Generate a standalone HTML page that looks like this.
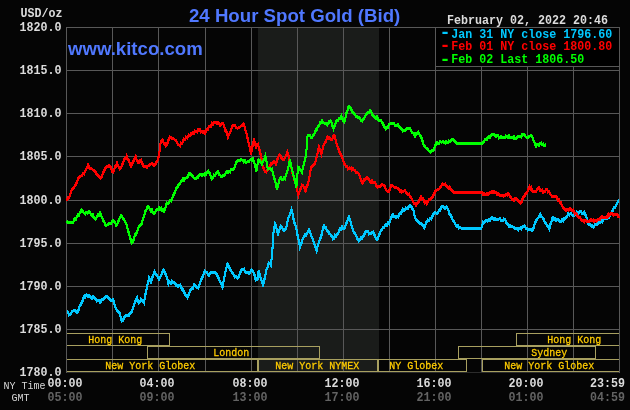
<!DOCTYPE html>
<html><head><meta charset="utf-8"><title>24 Hour Spot Gold (Bid)</title>
<style>
html,body{margin:0;padding:0;background:#050505;}
svg{display:block}
.m{font-family:"Liberation Mono",monospace;font-weight:bold;font-size:11.9px;fill:#dcdcdc}
.s{font-family:"Liberation Mono",monospace;font-size:11.5px;fill:#ffcc00;stroke:#ffcc00;stroke-width:0.3px}
.n{font-family:"Liberation Mono",monospace;font-size:11.5px;fill:#d8d8d8}
.t{font-family:"Liberation Sans",sans-serif;font-weight:bold;fill:#5078ff}
</style></head><body>
<svg width="630" height="410" viewBox="0 0 630 410">
<rect width="630" height="410" fill="#050505"/>
<rect x="258" y="27" width="121" height="345" fill="#1a1c1a"/>
<g fill="#585858" shape-rendering="crispEdges"><rect x="112" y="27" width="1" height="346"/><rect x="158" y="27" width="1" height="346"/><rect x="205" y="27" width="1" height="346"/><rect x="251" y="27" width="1" height="346"/><rect x="297" y="27" width="1" height="346"/><rect x="343" y="27" width="1" height="346"/><rect x="389" y="27" width="1" height="346"/><rect x="435" y="27" width="1" height="346"/><rect x="481" y="27" width="1" height="346"/><rect x="527" y="27" width="1" height="346"/><rect x="573" y="27" width="1" height="346"/><rect x="66" y="70" width="554" height="1"/><rect x="66" y="113" width="554" height="1"/><rect x="66" y="156" width="554" height="1"/><rect x="66" y="200" width="554" height="1"/><rect x="66" y="243" width="554" height="1"/><rect x="66" y="286" width="554" height="1"/><rect x="66" y="329" width="554" height="1"/><rect x="66" y="372" width="554" height="1" fill="#2c2c2c"/></g>
<g fill="none" stroke="#a8a060" stroke-width="1" shape-rendering="crispEdges"><path d="M66.5 333.5H169.5V345.5H66.5Z"/><path d="M516.5 333.5H619.5V345.5H516.5Z"/><path d="M147.5 346.5H319.5V358.5H147.5Z"/><path d="M458.5 346.5H595.5V358.5H458.5Z"/><path d="M66.5 359.5H257.5V371.5H66.5Z"/><path d="M258.5 359.5H377.5V371.5H258.5Z"/><path d="M378.5 359.5H466.5V371.5H378.5Z"/><path d="M482.5 359.5H619.5V371.5H482.5Z"/></g><g class="s"><text x="88.3" y="342.6" textLength="54" lengthAdjust="spacingAndGlyphs">Hong Kong</text><text x="547.3" y="342.6" textLength="54" lengthAdjust="spacingAndGlyphs">Hong Kong</text><text x="213.3" y="355.6" textLength="36" lengthAdjust="spacingAndGlyphs">London</text><text x="531.3" y="355.6" textLength="36" lengthAdjust="spacingAndGlyphs">Sydney</text><text x="105.3" y="368.6" textLength="90" lengthAdjust="spacingAndGlyphs">New York Globex</text><text x="275.3" y="368.6" textLength="84" lengthAdjust="spacingAndGlyphs">New York NYMEX</text><text x="389.3" y="368.6" textLength="54" lengthAdjust="spacingAndGlyphs">NY Globex</text><text x="504.3" y="368.6" textLength="90" lengthAdjust="spacingAndGlyphs">New York Globex</text></g>
<g fill="#585858" shape-rendering="crispEdges"><rect x="66" y="27" width="1" height="346"/><rect x="619" y="27" width="1" height="346"/><rect x="66" y="27" width="554" height="1"/></g>
<g class="m"><text x="19.5" y="31" textLength="42" lengthAdjust="spacingAndGlyphs">1820.0</text><text x="19.5" y="74" textLength="42" lengthAdjust="spacingAndGlyphs">1815.0</text><text x="19.5" y="117" textLength="42" lengthAdjust="spacingAndGlyphs">1810.0</text><text x="19.5" y="160" textLength="42" lengthAdjust="spacingAndGlyphs">1805.0</text><text x="19.5" y="204" textLength="42" lengthAdjust="spacingAndGlyphs">1800.0</text><text x="19.5" y="247" textLength="42" lengthAdjust="spacingAndGlyphs">1795.0</text><text x="19.5" y="290" textLength="42" lengthAdjust="spacingAndGlyphs">1790.0</text><text x="19.5" y="333" textLength="42" lengthAdjust="spacingAndGlyphs">1785.0</text><text x="19.5" y="376" textLength="42" lengthAdjust="spacingAndGlyphs">1780.0</text><text x="20.5" y="17" textLength="42" lengthAdjust="spacingAndGlyphs">USD/oz</text><text x="47.5" y="386.6" textLength="35" lengthAdjust="spacingAndGlyphs">00:00</text><text x="47.5" y="400.6" textLength="35" lengthAdjust="spacingAndGlyphs" fill="#636363">05:00</text><text x="139.5" y="386.6" textLength="35" lengthAdjust="spacingAndGlyphs">04:00</text><text x="139.5" y="400.6" textLength="35" lengthAdjust="spacingAndGlyphs" fill="#636363">09:00</text><text x="232.5" y="386.6" textLength="35" lengthAdjust="spacingAndGlyphs">08:00</text><text x="232.5" y="400.6" textLength="35" lengthAdjust="spacingAndGlyphs" fill="#636363">13:00</text><text x="324.5" y="386.6" textLength="35" lengthAdjust="spacingAndGlyphs">12:00</text><text x="324.5" y="400.6" textLength="35" lengthAdjust="spacingAndGlyphs" fill="#636363">17:00</text><text x="416.5" y="386.6" textLength="35" lengthAdjust="spacingAndGlyphs">16:00</text><text x="416.5" y="400.6" textLength="35" lengthAdjust="spacingAndGlyphs" fill="#636363">21:00</text><text x="508.5" y="386.6" textLength="35" lengthAdjust="spacingAndGlyphs">20:00</text><text x="508.5" y="400.6" textLength="35" lengthAdjust="spacingAndGlyphs" fill="#636363">01:00</text><text x="590" y="386.6" textLength="35" lengthAdjust="spacingAndGlyphs">23:59</text><text x="590" y="400.6" textLength="35" lengthAdjust="spacingAndGlyphs" fill="#636363">04:59</text></g>
<g class="n"><text x="3.5" y="388.6" textLength="42" lengthAdjust="spacingAndGlyphs">NY Time</text><text x="11.5" y="400.6" textLength="18" lengthAdjust="spacingAndGlyphs">GMT</text></g>
<text class="t" x="189" y="21.8" font-size="18.65px">24 Hour Spot Gold (Bid)</text>
<text class="t" x="68" y="55" font-size="18.6px">www.kitco.com</text>
<g fill="none" stroke-width="2" stroke-linejoin="miter" stroke-linecap="butt" shape-rendering="crispEdges">
<polyline stroke="#00c8ff" points="67.0,311.0 68.0,312.0 69.0,315.0 70.0,314.9 71.0,313.7 72.0,311.4 73.0,311.0 74.0,310.0 75.0,310.4 76.0,311.4 77.0,312.3 78.0,312.0 79.0,308.3 80.0,305.4 81.0,304.0 82.1,302.2 83.3,298.5 84.4,296.0 85.3,296.7 86.3,294.8 87.2,296.1 88.1,296.8 89.1,295.6 90.0,296.4 91.0,298.0 92.0,298.3 93.0,296.5 94.0,296.9 95.0,298.7 96.0,299.0 97.0,301.0 98.0,300.4 99.0,300.8 100.0,302.4 100.9,301.3 101.8,299.5 102.7,299.1 103.6,299.0 104.5,298.0 105.5,297.3 106.4,296.4 107.3,296.6 108.2,297.5 109.1,298.4 110.0,300.0 110.9,300.1 111.8,300.0 112.7,299.5 113.6,301.0 114.8,305.9 116.0,309.0 117.0,310.1 118.0,311.4 119.0,312.0 120.0,314.2 121.0,319.3 122.0,321.0 123.0,320.6 124.0,317.3 125.0,316.5 126.0,315.6 127.0,315.7 128.0,315.1 129.0,315.2 130.0,313.3 131.0,313.0 132.1,310.9 133.3,307.4 134.4,304.0 135.3,301.4 136.1,300.0 137.0,297.6 138.0,301.3 139.0,303.0 140.0,301.9 141.0,299.0 142.0,300.3 143.0,301.9 144.0,303.0 145.2,295.3 146.4,290.0 147.3,285.3 148.1,282.8 149.0,278.0 150.0,279.8 151.0,282.0 152.1,277.7 153.3,275.2 154.4,271.6 155.3,273.6 156.2,275.0 157.2,275.7 158.1,277.4 159.0,279.0 159.9,277.2 160.8,276.1 161.8,273.7 162.7,271.5 163.6,270.0 164.8,272.5 166.0,275.0 167.2,278.3 168.4,284.0 169.3,282.1 170.2,283.0 171.1,283.0 172.0,281.0 173.0,282.2 174.0,282.7 175.0,283.1 176.0,285.0 177.0,285.0 178.0,286.3 179.0,285.7 180.0,285.0 181.0,286.9 182.0,289.4 183.0,289.6 184.0,292.0 184.9,293.4 185.8,296.0 186.7,296.4 187.6,297.6 188.7,294.6 189.9,291.3 191.0,289.0 192.0,288.1 193.0,288.2 194.0,284.7 195.0,285.0 196.0,286.7 197.0,287.8 198.0,288.0 199.0,286.3 200.0,283.3 201.0,280.0 202.0,278.6 203.0,275.5 204.0,273.4 205.0,271.0 206.0,272.1 207.0,272.5 208.0,275.0 209.0,275.3 210.0,273.9 211.0,272.3 212.0,272.4 213.0,272.6 214.0,272.7 215.0,272.5 216.0,273.0 217.0,274.6 218.0,277.1 219.0,279.0 219.9,281.3 220.8,283.3 221.7,284.9 222.6,287.0 223.8,279.3 225.0,274.0 226.2,268.3 227.4,264.0 228.3,264.7 229.2,267.2 230.1,269.4 231.0,270.0 232.0,272.4 233.0,274.1 234.0,275.0 235.1,277.0 236.3,276.6 237.4,278.4 238.3,277.5 239.1,275.3 240.0,273.0 241.0,270.7 242.0,269.3 243.0,269.4 244.0,269.1 245.0,272.1 246.0,272.4 247.0,272.1 248.0,272.1 249.0,273.4 250.2,272.0 251.4,270.0 252.4,270.6 253.4,272.0 254.5,274.9 255.6,280.0 256.6,278.6 257.6,279.0 258.6,271.0 259.8,275.1 261.0,279.0 262.0,281.6 263.0,286.0 264.0,280.9 265.0,277.0 266.4,270.0 267.3,268.2 268.1,265.2 269.0,263.0 270.0,263.5 271.0,265.0 272.4,250.0 273.4,233.0 274.2,228.4 275.0,224.0 276.0,226.1 277.0,230.4 278.0,234.0 279.0,231.1 280.0,227.9 281.0,226.0 282.0,227.0 283.0,230.0 284.0,230.7 285.0,229.4 286.0,229.0 287.2,222.7 288.4,218.0 289.4,215.5 290.4,213.2 291.4,209.6 292.3,212.5 293.1,216.6 294.0,222.0 295.2,224.6 296.4,229.0 297.4,234.6 298.4,239.0 299.2,242.1 300.0,247.0 301.0,244.5 302.0,241.5 303.0,238.0 304.0,236.8 305.0,234.6 306.0,235.2 307.0,233.4 308.0,231.4 309.0,230.0 310.0,231.8 311.0,235.4 312.0,237.2 313.0,240.0 313.9,242.9 314.8,245.0 315.7,248.6 316.6,251.0 317.7,245.9 318.9,242.5 320.0,239.0 321.0,236.9 322.0,233.3 323.0,228.4 324.0,225.6 325.0,227.9 326.0,227.8 327.0,230.8 328.0,231.0 329.0,233.2 330.0,234.0 331.0,235.2 332.0,236.1 333.0,239.0 334.0,238.7 335.0,235.3 336.0,236.1 337.0,234.0 338.0,233.8 339.0,231.4 340.0,228.9 341.0,229.4 342.0,227.0 343.2,228.7 344.4,228.0 345.3,226.3 346.2,223.6 347.2,221.1 348.1,218.8 349.0,217.0 350.0,219.7 351.0,224.0 352.0,227.5 353.0,229.8 354.0,233.0 355.0,233.8 356.0,235.2 357.0,238.2 358.0,238.9 359.0,241.0 360.0,239.7 361.0,238.0 362.0,238.2 363.0,236.0 364.0,235.8 365.0,232.2 366.0,231.5 367.0,231.0 368.0,231.4 369.0,234.0 370.0,233.6 371.0,233.8 372.0,232.1 373.0,232.0 374.0,233.3 375.0,236.5 376.0,238.9 377.0,240.0 378.0,238.6 379.0,234.6 380.0,233.5 381.0,230.0 382.0,229.2 383.0,227.5 384.0,227.5 385.0,225.0 386.0,224.1 387.0,225.1 388.0,223.2 389.0,224.0 390.0,220.1 391.0,219.1 392.0,215.0 393.0,214.6 394.0,216.3 395.0,216.3 396.0,217.2 397.0,216.3 398.0,217.0 399.0,215.0 400.0,213.3 401.0,213.2 402.0,210.9 403.0,209.0 404.0,210.2 405.0,210.0 406.0,208.1 407.0,209.0 407.9,208.4 408.8,206.5 409.7,205.6 410.6,206.0 411.5,206.2 412.5,209.6 413.4,210.0 414.2,214.2 415.0,217.0 416.0,219.5 417.0,219.9 418.0,222.0 419.0,222.8 420.0,223.7 421.0,223.2 422.0,224.0 423.2,226.0 424.4,227.6 425.3,225.0 426.2,222.7 427.1,221.3 428.0,220.0 429.0,220.3 430.0,218.7 431.0,218.9 432.0,217.0 433.0,215.2 434.0,213.1 435.0,212.0 436.0,213.1 437.0,213.5 438.0,213.0 439.0,210.1 440.0,210.1 441.0,208.0 442.0,206.6 443.0,206.3 444.0,207.0 445.1,208.5 446.3,206.7 447.4,208.4 448.3,209.6 449.1,213.4 450.0,214.0 451.0,216.1 452.0,217.7 453.0,221.0 454.0,221.7 455.0,223.4 456.0,225.6 457.0,226.7 458.0,225.5 459.0,228.1 460.0,227.2 461.0,228.0 462.0,228.0 463.0,228.0 464.0,228.1 465.0,228.1 466.0,228.1 467.0,228.1 468.0,228.1 469.0,228.2 470.0,228.2 471.0,228.2 472.0,228.2 473.0,228.2 474.0,228.3 475.0,228.3 476.0,228.3 477.0,228.3 478.0,228.3 479.0,228.4 480.0,228.4 481.0,228.4 482.0,226.4 483.0,222.0 484.0,222.9 485.0,221.1 486.0,220.8 487.0,221.1 488.0,221.0 489.0,219.4 490.0,220.4 491.0,218.2 492.0,217.6 493.0,218.4 494.0,219.9 495.0,218.3 496.0,219.4 497.0,219.2 498.0,219.6 499.0,219.0 500.0,218.3 501.0,220.4 502.0,220.4 503.0,220.3 504.0,219.0 505.0,219.7 506.0,221.6 507.0,224.0 508.0,224.8 509.0,226.2 510.0,225.6 511.0,226.5 512.0,226.9 513.0,227.0 514.0,227.0 515.0,228.3 516.0,228.3 517.0,228.7 518.0,230.0 519.1,228.2 520.1,228.0 521.2,229.1 522.3,226.9 523.3,226.7 524.4,225.6 525.3,227.1 526.2,228.9 527.1,228.6 528.0,230.0 529.0,229.6 530.0,229.8 531.0,229.8 532.0,230.4 533.0,229.0 534.0,226.7 535.0,222.8 536.0,221.0 537.1,218.9 538.2,217.8 539.3,216.3 540.4,214.4 541.3,216.4 542.2,217.2 543.2,218.3 544.1,220.6 545.0,223.0 546.1,223.4 547.2,226.1 548.3,226.4 549.4,229.0 550.4,224.2 551.4,222.0 552.4,218.0 553.3,217.8 554.2,219.4 555.2,218.9 556.1,220.2 557.0,219.6 558.0,219.1 559.0,220.4 560.0,221.6 561.0,221.2 562.0,219.4 563.1,220.9 564.2,218.1 565.2,218.2 566.2,217.5 567.1,216.7 568.1,214.0 569.1,215.1 570.0,214.0 571.0,213.7 571.9,215.0 572.9,215.2 573.9,215.8 574.9,213.7 575.9,214.8 576.9,212.3 577.9,213.9 578.9,212.3 580.0,211.1 581.1,211.8 582.1,213.3 583.2,213.1 584.3,212.3 585.3,215.1 586.3,215.8 587.3,221.8 588.3,223.7 589.2,224.4 590.2,224.8 591.2,226.1 592.2,225.6 593.2,227.2 594.2,226.0 595.2,224.3 596.2,224.2 597.2,224.3 598.3,223.7 599.4,222.2 600.4,222.4 601.3,220.4 602.2,221.8 603.1,220.5 604.0,218.8 605.0,218.7 605.9,218.4 606.9,219.0 607.8,217.7 608.8,217.6 610.0,215.3 611.2,213.5 612.1,211.6 613.0,209.9 613.8,207.8 614.7,207.5 615.9,205.8 617.1,203.3 618.0,201.3 618.9,199.7" transform="translate(0,-0.5)"/><polyline stroke="#00c8ff" points="67.0,311.0 68.0,312.0 69.0,315.0 70.0,314.9 71.0,313.7 72.0,311.4 73.0,311.0 74.0,310.0 75.0,310.4 76.0,311.4 77.0,312.3 78.0,312.0 79.0,308.3 80.0,305.4 81.0,304.0 82.1,302.2 83.3,298.5 84.4,296.0 85.3,296.7 86.3,294.8 87.2,296.1 88.1,296.8 89.1,295.6 90.0,296.4 91.0,298.0 92.0,298.3 93.0,296.5 94.0,296.9 95.0,298.7 96.0,299.0 97.0,301.0 98.0,300.4 99.0,300.8 100.0,302.4 100.9,301.3 101.8,299.5 102.7,299.1 103.6,299.0 104.5,298.0 105.5,297.3 106.4,296.4 107.3,296.6 108.2,297.5 109.1,298.4 110.0,300.0 110.9,300.1 111.8,300.0 112.7,299.5 113.6,301.0 114.8,305.9 116.0,309.0 117.0,310.1 118.0,311.4 119.0,312.0 120.0,314.2 121.0,319.3 122.0,321.0 123.0,320.6 124.0,317.3 125.0,316.5 126.0,315.6 127.0,315.7 128.0,315.1 129.0,315.2 130.0,313.3 131.0,313.0 132.1,310.9 133.3,307.4 134.4,304.0 135.3,301.4 136.1,300.0 137.0,297.6 138.0,301.3 139.0,303.0 140.0,301.9 141.0,299.0 142.0,300.3 143.0,301.9 144.0,303.0 145.2,295.3 146.4,290.0 147.3,285.3 148.1,282.8 149.0,278.0 150.0,279.8 151.0,282.0 152.1,277.7 153.3,275.2 154.4,271.6 155.3,273.6 156.2,275.0 157.2,275.7 158.1,277.4 159.0,279.0 159.9,277.2 160.8,276.1 161.8,273.7 162.7,271.5 163.6,270.0 164.8,272.5 166.0,275.0 167.2,278.3 168.4,284.0 169.3,282.1 170.2,283.0 171.1,283.0 172.0,281.0 173.0,282.2 174.0,282.7 175.0,283.1 176.0,285.0 177.0,285.0 178.0,286.3 179.0,285.7 180.0,285.0 181.0,286.9 182.0,289.4 183.0,289.6 184.0,292.0 184.9,293.4 185.8,296.0 186.7,296.4 187.6,297.6 188.7,294.6 189.9,291.3 191.0,289.0 192.0,288.1 193.0,288.2 194.0,284.7 195.0,285.0 196.0,286.7 197.0,287.8 198.0,288.0 199.0,286.3 200.0,283.3 201.0,280.0 202.0,278.6 203.0,275.5 204.0,273.4 205.0,271.0 206.0,272.1 207.0,272.5 208.0,275.0 209.0,275.3 210.0,273.9 211.0,272.3 212.0,272.4 213.0,272.6 214.0,272.7 215.0,272.5 216.0,273.0 217.0,274.6 218.0,277.1 219.0,279.0 219.9,281.3 220.8,283.3 221.7,284.9 222.6,287.0 223.8,279.3 225.0,274.0 226.2,268.3 227.4,264.0 228.3,264.7 229.2,267.2 230.1,269.4 231.0,270.0 232.0,272.4 233.0,274.1 234.0,275.0 235.1,277.0 236.3,276.6 237.4,278.4 238.3,277.5 239.1,275.3 240.0,273.0 241.0,270.7 242.0,269.3 243.0,269.4 244.0,269.1 245.0,272.1 246.0,272.4 247.0,272.1 248.0,272.1 249.0,273.4 250.2,272.0 251.4,270.0 252.4,270.6 253.4,272.0 254.5,274.9 255.6,280.0 256.6,278.6 257.6,279.0 258.6,271.0 259.8,275.1 261.0,279.0 262.0,281.6 263.0,286.0 264.0,280.9 265.0,277.0 266.4,270.0 267.3,268.2 268.1,265.2 269.0,263.0 270.0,263.5 271.0,265.0 272.4,250.0 273.4,233.0 274.2,228.4 275.0,224.0 276.0,226.1 277.0,230.4 278.0,234.0 279.0,231.1 280.0,227.9 281.0,226.0 282.0,227.0 283.0,230.0 284.0,230.7 285.0,229.4 286.0,229.0 287.2,222.7 288.4,218.0 289.4,215.5 290.4,213.2 291.4,209.6 292.3,212.5 293.1,216.6 294.0,222.0 295.2,224.6 296.4,229.0 297.4,234.6 298.4,239.0 299.2,242.1 300.0,247.0 301.0,244.5 302.0,241.5 303.0,238.0 304.0,236.8 305.0,234.6 306.0,235.2 307.0,233.4 308.0,231.4 309.0,230.0 310.0,231.8 311.0,235.4 312.0,237.2 313.0,240.0 313.9,242.9 314.8,245.0 315.7,248.6 316.6,251.0 317.7,245.9 318.9,242.5 320.0,239.0 321.0,236.9 322.0,233.3 323.0,228.4 324.0,225.6 325.0,227.9 326.0,227.8 327.0,230.8 328.0,231.0 329.0,233.2 330.0,234.0 331.0,235.2 332.0,236.1 333.0,239.0 334.0,238.7 335.0,235.3 336.0,236.1 337.0,234.0 338.0,233.8 339.0,231.4 340.0,228.9 341.0,229.4 342.0,227.0 343.2,228.7 344.4,228.0 345.3,226.3 346.2,223.6 347.2,221.1 348.1,218.8 349.0,217.0 350.0,219.7 351.0,224.0 352.0,227.5 353.0,229.8 354.0,233.0 355.0,233.8 356.0,235.2 357.0,238.2 358.0,238.9 359.0,241.0 360.0,239.7 361.0,238.0 362.0,238.2 363.0,236.0 364.0,235.8 365.0,232.2 366.0,231.5 367.0,231.0 368.0,231.4 369.0,234.0 370.0,233.6 371.0,233.8 372.0,232.1 373.0,232.0 374.0,233.3 375.0,236.5 376.0,238.9 377.0,240.0 378.0,238.6 379.0,234.6 380.0,233.5 381.0,230.0 382.0,229.2 383.0,227.5 384.0,227.5 385.0,225.0 386.0,224.1 387.0,225.1 388.0,223.2 389.0,224.0 390.0,220.1 391.0,219.1 392.0,215.0 393.0,214.6 394.0,216.3 395.0,216.3 396.0,217.2 397.0,216.3 398.0,217.0 399.0,215.0 400.0,213.3 401.0,213.2 402.0,210.9 403.0,209.0 404.0,210.2 405.0,210.0 406.0,208.1 407.0,209.0 407.9,208.4 408.8,206.5 409.7,205.6 410.6,206.0 411.5,206.2 412.5,209.6 413.4,210.0 414.2,214.2 415.0,217.0 416.0,219.5 417.0,219.9 418.0,222.0 419.0,222.8 420.0,223.7 421.0,223.2 422.0,224.0 423.2,226.0 424.4,227.6 425.3,225.0 426.2,222.7 427.1,221.3 428.0,220.0 429.0,220.3 430.0,218.7 431.0,218.9 432.0,217.0 433.0,215.2 434.0,213.1 435.0,212.0 436.0,213.1 437.0,213.5 438.0,213.0 439.0,210.1 440.0,210.1 441.0,208.0 442.0,206.6 443.0,206.3 444.0,207.0 445.1,208.5 446.3,206.7 447.4,208.4 448.3,209.6 449.1,213.4 450.0,214.0 451.0,216.1 452.0,217.7 453.0,221.0 454.0,221.7 455.0,223.4 456.0,225.6 457.0,226.7 458.0,225.5 459.0,228.1 460.0,227.2 461.0,228.0 462.0,228.0 463.0,228.0 464.0,228.1 465.0,228.1 466.0,228.1 467.0,228.1 468.0,228.1 469.0,228.2 470.0,228.2 471.0,228.2 472.0,228.2 473.0,228.2 474.0,228.3 475.0,228.3 476.0,228.3 477.0,228.3 478.0,228.3 479.0,228.4 480.0,228.4 481.0,228.4 482.0,226.4 483.0,222.0 484.0,222.9 485.0,221.1 486.0,220.8 487.0,221.1 488.0,221.0 489.0,219.4 490.0,220.4 491.0,218.2 492.0,217.6 493.0,218.4 494.0,219.9 495.0,218.3 496.0,219.4 497.0,219.2 498.0,219.6 499.0,219.0 500.0,218.3 501.0,220.4 502.0,220.4 503.0,220.3 504.0,219.0 505.0,219.7 506.0,221.6 507.0,224.0 508.0,224.8 509.0,226.2 510.0,225.6 511.0,226.5 512.0,226.9 513.0,227.0 514.0,227.0 515.0,228.3 516.0,228.3 517.0,228.7 518.0,230.0 519.1,228.2 520.1,228.0 521.2,229.1 522.3,226.9 523.3,226.7 524.4,225.6 525.3,227.1 526.2,228.9 527.1,228.6 528.0,230.0 529.0,229.6 530.0,229.8 531.0,229.8 532.0,230.4 533.0,229.0 534.0,226.7 535.0,222.8 536.0,221.0 537.1,218.9 538.2,217.8 539.3,216.3 540.4,214.4 541.3,216.4 542.2,217.2 543.2,218.3 544.1,220.6 545.0,223.0 546.1,223.4 547.2,226.1 548.3,226.4 549.4,229.0 550.4,224.2 551.4,222.0 552.4,218.0 553.3,217.8 554.2,219.4 555.2,218.9 556.1,220.2 557.0,219.6 558.0,219.1 559.0,220.4 560.0,221.6 561.0,221.2 562.0,219.4 563.1,220.9 564.2,218.1 565.2,218.2 566.2,217.5 567.1,216.7 568.1,214.0 569.1,215.1 570.0,214.0 571.0,213.7 571.9,215.0 572.9,215.2 573.9,215.8 574.9,213.7 575.9,214.8 576.9,212.3 577.9,213.9 578.9,212.3 580.0,211.1 581.1,211.8 582.1,213.3 583.2,213.1 584.3,212.3 585.3,215.1 586.3,215.8 587.3,221.8 588.3,223.7 589.2,224.4 590.2,224.8 591.2,226.1 592.2,225.6 593.2,227.2 594.2,226.0 595.2,224.3 596.2,224.2 597.2,224.3 598.3,223.7 599.4,222.2 600.4,222.4 601.3,220.4 602.2,221.8 603.1,220.5 604.0,218.8 605.0,218.7 605.9,218.4 606.9,219.0 607.8,217.7 608.8,217.6 610.0,215.3 611.2,213.5 612.1,211.6 613.0,209.9 613.8,207.8 614.7,207.5 615.9,205.8 617.1,203.3 618.0,201.3 618.9,199.7" transform="translate(0,0.5)"/>
<polyline stroke="#ff0000" points="66.5,199.5 67.2,199.7 68.0,197.6 69.0,197.8 70.0,195.6 71.0,191.9 72.0,189.5 73.0,188.0 74.0,187.5 75.0,185.9 76.0,184.0 77.0,182.1 78.0,178.8 79.0,177.0 80.0,176.7 81.0,176.1 82.0,175.4 83.0,173.7 84.0,174.0 85.0,171.6 86.0,169.2 87.0,167.8 88.0,165.0 89.0,167.3 90.0,168.2 91.0,168.1 92.0,169.0 93.0,170.1 94.0,170.8 95.0,171.4 96.0,172.6 97.0,175.0 97.9,175.7 98.8,176.0 99.7,176.9 100.6,178.0 101.7,176.8 102.8,173.6 103.9,171.4 105.0,169.0 106.0,167.7 107.0,166.6 108.0,166.7 109.0,165.7 110.0,166.0 111.0,168.0 112.0,171.3 113.0,172.0 114.0,170.2 115.0,166.7 116.0,166.3 117.0,163.0 118.0,165.8 119.0,167.6 120.0,169.0 120.9,168.1 121.8,165.7 122.7,163.8 123.6,161.0 124.6,159.0 125.6,158.9 126.6,156.0 127.7,159.7 128.8,160.1 129.9,164.2 131.0,166.0 131.9,164.6 132.8,162.1 133.8,160.3 134.7,158.3 135.6,156.4 136.5,159.7 137.5,160.8 138.4,163.0 139.3,162.9 140.1,160.6 141.0,160.0 142.0,163.1 143.0,165.3 144.0,166.4 145.0,166.2 146.0,166.4 147.0,167.2 148.0,166.0 149.0,165.9 150.0,164.6 151.0,164.0 152.0,163.9 153.0,164.9 154.0,166.0 155.1,164.9 156.3,161.8 157.4,161.0 158.4,157.6 159.4,152.0 160.6,143.0 161.6,140.9 162.6,140.0 163.7,143.1 164.9,143.5 166.0,146.0 166.9,144.9 167.8,142.0 168.7,139.3 169.6,137.0 170.7,137.6 171.8,138.6 172.8,139.0 173.9,138.9 175.0,140.0 176.0,140.4 177.0,142.4 178.0,144.7 179.0,145.1 180.0,146.0 181.0,143.1 182.0,143.3 183.0,141.3 184.0,139.0 185.0,139.6 186.0,137.2 187.0,138.1 188.0,137.0 189.0,135.0 190.0,135.7 191.0,133.9 192.0,133.6 193.0,132.4 194.0,133.5 195.0,131.0 196.0,131.6 197.0,131.9 198.0,129.9 199.0,130.0 200.0,129.7 201.0,132.0 202.0,131.3 203.0,132.6 204.0,131.3 205.0,133.0 206.0,131.2 207.0,129.3 208.0,129.2 209.0,126.3 210.0,126.0 211.0,126.5 212.0,123.4 213.0,124.6 214.0,122.1 215.0,122.0 216.0,122.0 217.0,123.6 218.0,122.6 219.0,123.4 220.0,125.0 221.0,125.0 222.0,123.8 223.0,123.6 224.0,125.1 225.0,130.2 226.0,130.7 227.0,133.1 228.0,137.0 229.0,134.3 230.0,132.7 231.0,130.8 232.0,126.9 233.0,125.6 234.0,125.8 235.0,125.6 236.0,127.3 237.0,128.0 237.9,128.1 238.9,127.4 239.8,127.2 240.8,126.2 241.7,125.8 242.7,124.8 243.6,123.6 244.8,127.7 246.0,132.0 247.0,135.3 248.0,140.4 249.0,144.0 250.0,148.5 251.0,154.0 252.0,148.0 253.0,143.9 254.0,139.0 255.0,144.0 256.0,147.0 257.0,144.5 258.0,144.0 259.0,148.2 260.0,151.7 261.0,156.0 262.0,162.0 263.0,168.0 264.0,168.4 265.0,171.9 266.0,172.0 267.0,170.0 268.0,169.6 269.0,168.0 270.0,166.3 271.0,163.7 272.0,163.7 273.0,162.0 274.0,161.7 275.0,162.2 276.0,164.0 277.1,159.8 278.3,157.1 279.4,155.0 280.3,155.2 281.2,157.9 282.1,158.8 283.0,160.0 284.1,159.3 285.2,157.1 286.3,155.3 287.4,152.0 288.3,154.6 289.1,158.5 290.0,162.0 291.2,166.9 292.4,173.0 293.3,176.0 294.2,178.8 295.1,182.0 296.0,184.0 297.2,190.0 298.4,195.0 299.3,191.9 300.2,189.8 301.1,187.6 302.0,185.0 302.9,185.2 303.8,186.8 304.7,189.3 305.6,191.0 306.7,186.3 307.9,184.2 309.0,180.0 310.0,173.3 311.0,168.0 312.0,166.0 313.0,165.2 314.0,164.3 315.0,164.0 316.0,159.0 317.0,155.6 318.0,151.2 319.0,147.0 320.2,150.0 321.4,154.0 322.3,151.0 323.1,146.6 324.0,144.0 325.1,142.7 326.3,140.5 327.4,137.0 328.3,138.1 329.2,137.9 330.2,138.6 331.1,139.3 332.0,139.6 333.2,136.4 334.4,135.6 335.3,138.7 336.2,142.4 337.1,144.8 338.0,149.0 339.0,149.9 340.0,153.8 341.0,154.7 342.0,157.0 343.0,159.7 344.0,163.4 345.0,165.0 346.0,166.1 347.0,166.1 348.0,168.7 349.0,167.9 350.0,169.0 351.0,168.0 352.0,170.0 353.0,168.7 354.0,170.0 355.0,170.2 356.0,172.4 357.0,172.7 358.0,173.0 359.1,174.2 360.2,177.9 361.3,180.3 362.4,183.0 363.3,181.7 364.2,179.7 365.1,179.5 366.0,178.0 367.0,177.6 368.0,178.9 369.0,179.9 370.0,181.0 371.0,182.4 372.0,180.4 373.0,182.4 374.0,182.0 375.1,182.9 376.3,185.5 377.4,187.0 378.3,186.4 379.3,186.2 380.2,186.7 381.1,185.4 382.1,184.3 383.0,185.0 384.0,185.4 385.0,186.7 386.0,190.1 387.0,191.0 388.0,192.0 389.0,191.4 390.0,189.0 391.0,185.5 392.0,185.0 393.0,186.0 394.0,186.9 395.0,187.4 396.0,187.4 397.0,188.0 398.0,188.4 399.0,189.5 400.0,191.2 401.0,190.6 402.0,192.0 403.0,191.6 404.0,191.0 405.0,190.6 406.0,192.6 407.0,193.1 408.0,194.3 409.0,194.0 410.0,196.9 411.0,197.5 412.0,199.3 413.0,202.0 414.0,203.2 415.0,203.8 416.0,205.6 417.0,203.7 418.0,202.6 419.0,201.5 420.0,198.9 421.0,197.0 421.9,198.9 422.9,198.1 423.8,199.9 424.7,202.7 425.7,201.6 426.6,203.6 427.6,202.2 428.6,200.2 429.6,199.1 430.6,199.0 431.7,198.3 432.8,196.8 433.9,194.1 435.0,192.0 436.0,190.3 437.0,190.0 438.0,189.1 439.0,189.0 440.1,187.8 441.3,186.1 442.4,184.0 443.3,184.2 444.2,184.9 445.2,184.2 446.1,185.7 447.0,186.0 447.9,187.9 448.8,188.2 449.7,187.2 450.6,189.0 451.7,190.2 452.9,191.8 454.0,192.4 455.0,192.4 456.0,192.4 457.0,192.4 458.0,192.4 459.0,192.4 460.0,192.4 461.0,192.4 462.0,192.4 463.0,192.4 464.0,192.4 465.0,192.4 466.0,192.4 467.0,192.4 468.0,192.4 469.0,192.4 470.0,192.4 471.0,192.4 472.0,192.4 473.0,192.4 474.0,192.4 475.0,192.4 476.0,192.4 477.0,192.4 478.0,192.4 479.0,192.4 480.0,192.4 481.0,192.4 482.0,192.3 483.0,194.4 484.0,193.8 485.0,194.4 486.0,194.6 487.0,193.4 488.0,194.6 489.0,193.7 490.0,192.6 491.0,192.8 492.0,191.7 493.0,192.4 494.0,191.4 495.0,192.8 496.0,192.6 497.0,194.3 498.0,193.1 499.0,194.7 500.0,195.3 501.0,196.0 502.0,195.4 503.0,195.9 504.0,196.1 505.0,195.2 506.0,194.2 507.0,195.1 508.0,193.6 509.0,194.4 510.0,196.8 511.0,197.9 512.0,199.4 513.0,200.0 514.0,200.2 515.0,198.0 516.0,198.0 517.1,199.6 518.2,200.2 519.3,202.2 520.4,203.0 521.3,202.6 522.2,200.2 523.2,196.9 524.1,196.5 525.0,195.0 526.1,193.6 527.2,192.0 528.3,189.4 529.4,187.0 530.3,188.8 531.2,187.7 532.2,191.2 533.1,191.6 534.0,192.0 535.0,191.3 536.0,191.1 537.0,190.0 538.0,188.0 539.0,187.6 540.0,190.2 541.0,190.7 542.0,189.9 543.0,192.0 544.0,192.0 545.0,191.4 546.0,189.6 547.0,189.6 548.0,191.8 549.0,191.4 550.0,194.0 551.0,194.9 552.0,196.4 553.0,196.0 554.0,197.0 555.0,196.9 556.0,196.4 557.0,197.4 557.9,200.4 558.9,199.8 559.8,202.7 560.9,202.8 562.0,205.5 563.0,207.9 564.1,208.9 565.2,209.9 566.2,210.5 567.2,209.7 568.2,210.1 569.1,209.1 570.1,208.8 571.1,209.3 572.1,210.3 573.1,210.0 574.1,211.2 575.1,213.9 576.1,213.4 577.1,215.2 578.1,216.8 579.1,217.7 580.1,217.7 581.1,219.3 582.1,220.4 583.1,220.6 584.1,221.8 585.0,220.2 586.0,220.6 586.9,221.4 587.9,222.0 589.0,221.5 590.0,220.7 591.1,219.5 592.1,220.5 593.2,220.0 594.1,221.5 595.0,220.3 595.9,221.0 596.8,221.2 597.8,219.8 598.9,219.0 600.0,219.0 601.0,217.0 602.1,216.5 603.2,217.4 604.2,217.0 605.3,217.1 606.4,217.0 607.5,217.2 608.5,214.1 609.5,215.2 610.6,213.5 611.6,213.3 612.7,214.4 613.7,215.1 614.7,214.6 615.9,215.0 617.1,214.6 618.0,215.8 618.9,217.6" transform="translate(0,-0.5)"/><polyline stroke="#ff0000" points="66.5,199.5 67.2,199.7 68.0,197.6 69.0,197.8 70.0,195.6 71.0,191.9 72.0,189.5 73.0,188.0 74.0,187.5 75.0,185.9 76.0,184.0 77.0,182.1 78.0,178.8 79.0,177.0 80.0,176.7 81.0,176.1 82.0,175.4 83.0,173.7 84.0,174.0 85.0,171.6 86.0,169.2 87.0,167.8 88.0,165.0 89.0,167.3 90.0,168.2 91.0,168.1 92.0,169.0 93.0,170.1 94.0,170.8 95.0,171.4 96.0,172.6 97.0,175.0 97.9,175.7 98.8,176.0 99.7,176.9 100.6,178.0 101.7,176.8 102.8,173.6 103.9,171.4 105.0,169.0 106.0,167.7 107.0,166.6 108.0,166.7 109.0,165.7 110.0,166.0 111.0,168.0 112.0,171.3 113.0,172.0 114.0,170.2 115.0,166.7 116.0,166.3 117.0,163.0 118.0,165.8 119.0,167.6 120.0,169.0 120.9,168.1 121.8,165.7 122.7,163.8 123.6,161.0 124.6,159.0 125.6,158.9 126.6,156.0 127.7,159.7 128.8,160.1 129.9,164.2 131.0,166.0 131.9,164.6 132.8,162.1 133.8,160.3 134.7,158.3 135.6,156.4 136.5,159.7 137.5,160.8 138.4,163.0 139.3,162.9 140.1,160.6 141.0,160.0 142.0,163.1 143.0,165.3 144.0,166.4 145.0,166.2 146.0,166.4 147.0,167.2 148.0,166.0 149.0,165.9 150.0,164.6 151.0,164.0 152.0,163.9 153.0,164.9 154.0,166.0 155.1,164.9 156.3,161.8 157.4,161.0 158.4,157.6 159.4,152.0 160.6,143.0 161.6,140.9 162.6,140.0 163.7,143.1 164.9,143.5 166.0,146.0 166.9,144.9 167.8,142.0 168.7,139.3 169.6,137.0 170.7,137.6 171.8,138.6 172.8,139.0 173.9,138.9 175.0,140.0 176.0,140.4 177.0,142.4 178.0,144.7 179.0,145.1 180.0,146.0 181.0,143.1 182.0,143.3 183.0,141.3 184.0,139.0 185.0,139.6 186.0,137.2 187.0,138.1 188.0,137.0 189.0,135.0 190.0,135.7 191.0,133.9 192.0,133.6 193.0,132.4 194.0,133.5 195.0,131.0 196.0,131.6 197.0,131.9 198.0,129.9 199.0,130.0 200.0,129.7 201.0,132.0 202.0,131.3 203.0,132.6 204.0,131.3 205.0,133.0 206.0,131.2 207.0,129.3 208.0,129.2 209.0,126.3 210.0,126.0 211.0,126.5 212.0,123.4 213.0,124.6 214.0,122.1 215.0,122.0 216.0,122.0 217.0,123.6 218.0,122.6 219.0,123.4 220.0,125.0 221.0,125.0 222.0,123.8 223.0,123.6 224.0,125.1 225.0,130.2 226.0,130.7 227.0,133.1 228.0,137.0 229.0,134.3 230.0,132.7 231.0,130.8 232.0,126.9 233.0,125.6 234.0,125.8 235.0,125.6 236.0,127.3 237.0,128.0 237.9,128.1 238.9,127.4 239.8,127.2 240.8,126.2 241.7,125.8 242.7,124.8 243.6,123.6 244.8,127.7 246.0,132.0 247.0,135.3 248.0,140.4 249.0,144.0 250.0,148.5 251.0,154.0 252.0,148.0 253.0,143.9 254.0,139.0 255.0,144.0 256.0,147.0 257.0,144.5 258.0,144.0 259.0,148.2 260.0,151.7 261.0,156.0 262.0,162.0 263.0,168.0 264.0,168.4 265.0,171.9 266.0,172.0 267.0,170.0 268.0,169.6 269.0,168.0 270.0,166.3 271.0,163.7 272.0,163.7 273.0,162.0 274.0,161.7 275.0,162.2 276.0,164.0 277.1,159.8 278.3,157.1 279.4,155.0 280.3,155.2 281.2,157.9 282.1,158.8 283.0,160.0 284.1,159.3 285.2,157.1 286.3,155.3 287.4,152.0 288.3,154.6 289.1,158.5 290.0,162.0 291.2,166.9 292.4,173.0 293.3,176.0 294.2,178.8 295.1,182.0 296.0,184.0 297.2,190.0 298.4,195.0 299.3,191.9 300.2,189.8 301.1,187.6 302.0,185.0 302.9,185.2 303.8,186.8 304.7,189.3 305.6,191.0 306.7,186.3 307.9,184.2 309.0,180.0 310.0,173.3 311.0,168.0 312.0,166.0 313.0,165.2 314.0,164.3 315.0,164.0 316.0,159.0 317.0,155.6 318.0,151.2 319.0,147.0 320.2,150.0 321.4,154.0 322.3,151.0 323.1,146.6 324.0,144.0 325.1,142.7 326.3,140.5 327.4,137.0 328.3,138.1 329.2,137.9 330.2,138.6 331.1,139.3 332.0,139.6 333.2,136.4 334.4,135.6 335.3,138.7 336.2,142.4 337.1,144.8 338.0,149.0 339.0,149.9 340.0,153.8 341.0,154.7 342.0,157.0 343.0,159.7 344.0,163.4 345.0,165.0 346.0,166.1 347.0,166.1 348.0,168.7 349.0,167.9 350.0,169.0 351.0,168.0 352.0,170.0 353.0,168.7 354.0,170.0 355.0,170.2 356.0,172.4 357.0,172.7 358.0,173.0 359.1,174.2 360.2,177.9 361.3,180.3 362.4,183.0 363.3,181.7 364.2,179.7 365.1,179.5 366.0,178.0 367.0,177.6 368.0,178.9 369.0,179.9 370.0,181.0 371.0,182.4 372.0,180.4 373.0,182.4 374.0,182.0 375.1,182.9 376.3,185.5 377.4,187.0 378.3,186.4 379.3,186.2 380.2,186.7 381.1,185.4 382.1,184.3 383.0,185.0 384.0,185.4 385.0,186.7 386.0,190.1 387.0,191.0 388.0,192.0 389.0,191.4 390.0,189.0 391.0,185.5 392.0,185.0 393.0,186.0 394.0,186.9 395.0,187.4 396.0,187.4 397.0,188.0 398.0,188.4 399.0,189.5 400.0,191.2 401.0,190.6 402.0,192.0 403.0,191.6 404.0,191.0 405.0,190.6 406.0,192.6 407.0,193.1 408.0,194.3 409.0,194.0 410.0,196.9 411.0,197.5 412.0,199.3 413.0,202.0 414.0,203.2 415.0,203.8 416.0,205.6 417.0,203.7 418.0,202.6 419.0,201.5 420.0,198.9 421.0,197.0 421.9,198.9 422.9,198.1 423.8,199.9 424.7,202.7 425.7,201.6 426.6,203.6 427.6,202.2 428.6,200.2 429.6,199.1 430.6,199.0 431.7,198.3 432.8,196.8 433.9,194.1 435.0,192.0 436.0,190.3 437.0,190.0 438.0,189.1 439.0,189.0 440.1,187.8 441.3,186.1 442.4,184.0 443.3,184.2 444.2,184.9 445.2,184.2 446.1,185.7 447.0,186.0 447.9,187.9 448.8,188.2 449.7,187.2 450.6,189.0 451.7,190.2 452.9,191.8 454.0,192.4 455.0,192.4 456.0,192.4 457.0,192.4 458.0,192.4 459.0,192.4 460.0,192.4 461.0,192.4 462.0,192.4 463.0,192.4 464.0,192.4 465.0,192.4 466.0,192.4 467.0,192.4 468.0,192.4 469.0,192.4 470.0,192.4 471.0,192.4 472.0,192.4 473.0,192.4 474.0,192.4 475.0,192.4 476.0,192.4 477.0,192.4 478.0,192.4 479.0,192.4 480.0,192.4 481.0,192.4 482.0,192.3 483.0,194.4 484.0,193.8 485.0,194.4 486.0,194.6 487.0,193.4 488.0,194.6 489.0,193.7 490.0,192.6 491.0,192.8 492.0,191.7 493.0,192.4 494.0,191.4 495.0,192.8 496.0,192.6 497.0,194.3 498.0,193.1 499.0,194.7 500.0,195.3 501.0,196.0 502.0,195.4 503.0,195.9 504.0,196.1 505.0,195.2 506.0,194.2 507.0,195.1 508.0,193.6 509.0,194.4 510.0,196.8 511.0,197.9 512.0,199.4 513.0,200.0 514.0,200.2 515.0,198.0 516.0,198.0 517.1,199.6 518.2,200.2 519.3,202.2 520.4,203.0 521.3,202.6 522.2,200.2 523.2,196.9 524.1,196.5 525.0,195.0 526.1,193.6 527.2,192.0 528.3,189.4 529.4,187.0 530.3,188.8 531.2,187.7 532.2,191.2 533.1,191.6 534.0,192.0 535.0,191.3 536.0,191.1 537.0,190.0 538.0,188.0 539.0,187.6 540.0,190.2 541.0,190.7 542.0,189.9 543.0,192.0 544.0,192.0 545.0,191.4 546.0,189.6 547.0,189.6 548.0,191.8 549.0,191.4 550.0,194.0 551.0,194.9 552.0,196.4 553.0,196.0 554.0,197.0 555.0,196.9 556.0,196.4 557.0,197.4 557.9,200.4 558.9,199.8 559.8,202.7 560.9,202.8 562.0,205.5 563.0,207.9 564.1,208.9 565.2,209.9 566.2,210.5 567.2,209.7 568.2,210.1 569.1,209.1 570.1,208.8 571.1,209.3 572.1,210.3 573.1,210.0 574.1,211.2 575.1,213.9 576.1,213.4 577.1,215.2 578.1,216.8 579.1,217.7 580.1,217.7 581.1,219.3 582.1,220.4 583.1,220.6 584.1,221.8 585.0,220.2 586.0,220.6 586.9,221.4 587.9,222.0 589.0,221.5 590.0,220.7 591.1,219.5 592.1,220.5 593.2,220.0 594.1,221.5 595.0,220.3 595.9,221.0 596.8,221.2 597.8,219.8 598.9,219.0 600.0,219.0 601.0,217.0 602.1,216.5 603.2,217.4 604.2,217.0 605.3,217.1 606.4,217.0 607.5,217.2 608.5,214.1 609.5,215.2 610.6,213.5 611.6,213.3 612.7,214.4 613.7,215.1 614.7,214.6 615.9,215.0 617.1,214.6 618.0,215.8 618.9,217.6" transform="translate(0,0.5)"/>
<polyline stroke="#00ff00" points="66.6,222.6 67.7,221.9 68.7,222.7 69.8,222.3 70.9,222.9 71.9,222.9 73.0,222.6 74.0,220.1 74.9,218.5 75.9,219.3 76.8,216.4 77.8,214.9 78.7,215.5 79.7,212.7 80.6,212.3 81.6,210.0 82.7,211.3 83.9,213.0 85.0,214.0 86.0,212.4 87.0,213.1 88.0,213.0 89.0,211.4 89.9,212.5 90.9,214.2 91.8,215.1 92.8,214.6 93.7,217.5 94.7,218.2 95.6,219.0 96.7,217.0 97.8,214.8 98.9,215.5 100.0,213.0 101.1,215.0 102.1,217.8 103.2,220.3 104.3,222.0 105.3,224.6 106.4,225.6 107.4,224.6 108.4,224.8 109.4,223.2 110.4,223.7 111.4,222.8 112.4,221.0 113.3,220.7 114.2,221.5 115.2,222.4 116.1,225.1 117.0,224.6 118.0,222.1 119.0,220.3 120.0,217.2 121.0,215.4 122.0,216.9 123.0,218.1 124.0,219.6 125.0,221.7 126.0,223.0 127.0,226.6 128.0,230.7 129.0,233.5 130.0,237.4 131.0,240.6 132.0,243.0 133.0,241.8 134.0,238.6 135.0,234.8 136.0,234.2 137.0,232.1 138.0,229.5 139.0,226.0 140.0,225.2 141.0,224.6 142.0,223.0 143.0,218.6 144.0,216.5 145.0,212.0 145.9,210.8 146.8,208.7 147.7,206.8 148.6,206.6 149.7,208.9 150.8,210.7 151.8,209.7 152.9,213.0 154.0,213.6 155.0,212.2 156.0,210.5 157.0,209.7 158.0,209.8 159.0,208.0 160.0,209.6 161.0,208.2 162.0,210.3 163.0,209.5 164.0,211.4 165.0,209.2 166.0,205.4 167.0,203.0 168.0,203.2 169.0,202.6 170.0,200.6 171.0,201.1 172.0,199.0 173.0,196.3 174.0,193.6 175.0,192.8 176.0,189.1 177.0,187.4 178.0,186.0 179.0,184.4 180.0,183.6 181.0,181.1 182.0,180.6 183.0,178.8 184.0,180.3 185.0,178.2 186.0,178.0 187.0,177.9 188.0,176.5 189.0,173.9 190.0,173.0 191.0,174.1 192.0,175.5 193.0,177.0 194.0,178.0 195.0,179.0 196.0,178.2 197.0,177.3 198.0,177.1 199.0,175.0 200.0,174.0 201.0,174.1 202.0,175.1 203.0,174.1 204.0,175.0 205.0,173.5 206.0,174.2 207.0,172.1 208.0,171.0 209.0,173.1 210.0,173.7 211.0,176.8 212.0,179.0 213.0,177.8 214.0,175.0 215.0,175.1 216.0,173.7 217.0,172.0 218.0,171.9 219.0,174.3 220.0,174.9 221.0,176.5 222.0,177.0 223.0,175.8 224.0,175.8 225.0,175.0 226.0,172.3 227.0,171.6 228.0,172.3 229.0,171.0 230.0,171.8 231.0,169.6 232.0,169.7 233.0,169.6 234.0,169.0 235.0,165.9 236.0,163.3 237.0,161.0 238.0,160.3 239.0,160.3 240.0,160.6 241.0,159.7 242.0,160.0 243.0,160.3 244.0,161.9 245.0,160.6 246.0,162.4 247.0,162.1 248.0,161.4 249.0,161.5 250.0,159.9 251.0,159.2 252.0,160.3 253.0,159.0 254.1,162.3 255.3,166.2 256.4,171.0 257.4,165.3 258.4,160.0 259.3,161.5 260.2,161.0 261.1,162.5 262.0,164.0 263.1,160.9 264.3,159.5 265.4,156.0 266.3,160.2 267.1,165.6 268.0,169.0 269.0,168.1 270.0,168.6 271.0,169.4 272.0,169.0 273.0,174.0 274.0,177.0 275.0,181.0 276.0,184.6 277.0,189.4 278.0,184.6 279.0,181.9 280.0,178.0 281.0,177.4 282.0,179.2 283.0,179.5 284.0,178.0 285.0,179.0 286.0,174.8 287.0,172.5 288.0,168.0 289.0,164.4 290.0,160.0 291.0,165.5 292.0,168.9 293.0,174.0 294.1,177.4 295.3,182.1 296.4,187.0 297.2,177.8 298.0,167.0 299.0,167.7 300.0,169.1 301.0,170.5 302.0,172.0 303.0,167.8 304.0,163.8 305.0,160.0 305.8,156.1 306.5,150.0 307.6,135.6 308.7,135.4 309.9,135.6 311.0,137.6 312.0,137.4 313.0,135.8 314.0,134.7 315.0,132.0 316.0,129.8 317.0,129.2 318.0,126.0 319.0,125.9 320.0,122.8 321.0,122.9 322.0,121.0 323.0,122.7 324.0,123.0 325.0,123.4 326.0,123.7 327.0,125.0 328.1,123.3 329.3,121.6 330.4,121.0 331.4,122.3 332.4,126.2 333.4,128.4 334.3,125.7 335.2,125.0 336.1,120.9 337.0,120.0 338.1,120.0 339.2,118.5 340.3,118.1 341.4,116.0 342.4,119.0 343.4,121.0 344.4,122.0 345.3,118.7 346.2,113.7 347.1,112.1 348.0,108.0 349.0,106.6 350.0,107.0 351.0,108.5 352.0,111.4 353.0,113.0 354.0,113.8 355.0,114.3 356.0,116.4 357.0,116.0 358.0,117.3 359.0,117.6 360.0,118.4 361.0,120.9 362.0,121.0 363.0,119.4 364.0,118.7 365.0,116.1 366.0,115.0 367.0,113.1 368.0,112.9 369.0,112.5 370.0,110.6 371.0,111.0 372.0,113.9 373.0,115.5 374.0,116.5 375.0,117.0 376.0,118.4 377.0,116.9 378.0,119.1 379.0,120.3 380.0,120.0 381.0,120.3 382.0,122.4 383.0,123.9 384.0,126.1 385.0,127.3 386.0,129.0 387.0,127.7 388.0,127.2 389.0,124.0 390.0,124.0 391.0,123.0 392.0,123.3 393.0,123.5 394.0,123.4 395.0,125.9 396.0,125.8 397.0,125.0 398.0,124.9 399.0,127.0 400.0,127.5 401.0,128.5 402.0,129.6 403.0,131.0 404.0,130.9 405.0,130.2 406.0,129.1 407.0,128.2 408.0,128.1 409.0,128.0 410.0,128.4 411.0,130.8 412.0,132.6 413.0,133.0 414.0,133.6 415.0,136.0 416.1,133.8 417.3,133.0 418.4,132.0 419.3,134.0 420.2,136.2 421.1,136.9 422.0,139.0 423.0,143.0 424.0,145.4 425.0,146.7 426.0,148.0 427.0,148.8 428.0,149.7 429.0,151.0 430.0,152.0 430.9,152.0 431.8,150.8 432.7,151.0 433.6,150.0 434.8,146.7 436.0,143.6 437.0,142.7 438.0,143.2 439.0,143.3 440.0,141.4 441.0,142.1 442.0,142.0 443.0,141.8 444.0,142.9 445.0,143.0 446.0,141.5 447.0,142.8 448.0,142.5 449.0,141.0 450.0,141.6 451.1,140.8 452.3,139.2 453.4,139.4 454.3,141.0 455.2,141.4 456.2,142.8 457.1,143.4 458.0,143.4 459.0,143.4 460.0,143.4 461.0,143.4 462.0,143.4 463.0,143.4 464.0,143.4 465.0,143.4 466.0,143.4 467.0,143.4 468.0,143.4 469.0,143.4 470.0,143.4 471.0,143.4 472.0,143.4 473.0,143.4 474.0,143.4 475.0,143.4 476.0,143.4 477.0,143.4 478.0,143.4 479.0,143.4 480.0,143.4 481.0,143.4 482.0,143.2 483.0,142.6 484.0,141.5 485.0,139.6 486.0,140.0 487.0,139.3 488.0,137.0 489.0,136.4 490.0,137.2 491.0,135.6 492.0,134.3 493.0,134.2 494.0,134.1 495.0,135.0 496.0,136.5 497.0,135.1 498.0,135.2 499.0,137.8 500.0,137.4 501.0,136.2 502.0,137.8 503.0,137.2 504.0,137.3 505.0,137.4 506.0,136.0 507.0,136.4 508.0,137.2 509.0,135.5 510.0,137.6 511.0,137.2 512.0,137.4 513.0,138.1 514.0,136.6 515.0,138.4 516.0,139.0 517.0,138.0 518.0,136.4 519.0,136.5 520.0,136.7 521.0,136.9 522.0,134.8 523.0,135.0 524.0,134.8 525.0,135.5 526.0,137.1 527.0,137.4 527.9,137.7 528.8,136.4 529.8,136.0 530.7,135.7 531.6,135.6 532.6,137.9 533.6,141.0 534.8,143.3 536.0,146.0 537.0,144.3 538.0,144.8 539.0,145.4 540.0,143.4 541.0,143.0 542.0,144.5 543.0,143.9 544.0,145.6 545.0,145.3 546.0,144.0" transform="translate(0,-0.5)"/><polyline stroke="#00ff00" points="66.6,222.6 67.7,221.9 68.7,222.7 69.8,222.3 70.9,222.9 71.9,222.9 73.0,222.6 74.0,220.1 74.9,218.5 75.9,219.3 76.8,216.4 77.8,214.9 78.7,215.5 79.7,212.7 80.6,212.3 81.6,210.0 82.7,211.3 83.9,213.0 85.0,214.0 86.0,212.4 87.0,213.1 88.0,213.0 89.0,211.4 89.9,212.5 90.9,214.2 91.8,215.1 92.8,214.6 93.7,217.5 94.7,218.2 95.6,219.0 96.7,217.0 97.8,214.8 98.9,215.5 100.0,213.0 101.1,215.0 102.1,217.8 103.2,220.3 104.3,222.0 105.3,224.6 106.4,225.6 107.4,224.6 108.4,224.8 109.4,223.2 110.4,223.7 111.4,222.8 112.4,221.0 113.3,220.7 114.2,221.5 115.2,222.4 116.1,225.1 117.0,224.6 118.0,222.1 119.0,220.3 120.0,217.2 121.0,215.4 122.0,216.9 123.0,218.1 124.0,219.6 125.0,221.7 126.0,223.0 127.0,226.6 128.0,230.7 129.0,233.5 130.0,237.4 131.0,240.6 132.0,243.0 133.0,241.8 134.0,238.6 135.0,234.8 136.0,234.2 137.0,232.1 138.0,229.5 139.0,226.0 140.0,225.2 141.0,224.6 142.0,223.0 143.0,218.6 144.0,216.5 145.0,212.0 145.9,210.8 146.8,208.7 147.7,206.8 148.6,206.6 149.7,208.9 150.8,210.7 151.8,209.7 152.9,213.0 154.0,213.6 155.0,212.2 156.0,210.5 157.0,209.7 158.0,209.8 159.0,208.0 160.0,209.6 161.0,208.2 162.0,210.3 163.0,209.5 164.0,211.4 165.0,209.2 166.0,205.4 167.0,203.0 168.0,203.2 169.0,202.6 170.0,200.6 171.0,201.1 172.0,199.0 173.0,196.3 174.0,193.6 175.0,192.8 176.0,189.1 177.0,187.4 178.0,186.0 179.0,184.4 180.0,183.6 181.0,181.1 182.0,180.6 183.0,178.8 184.0,180.3 185.0,178.2 186.0,178.0 187.0,177.9 188.0,176.5 189.0,173.9 190.0,173.0 191.0,174.1 192.0,175.5 193.0,177.0 194.0,178.0 195.0,179.0 196.0,178.2 197.0,177.3 198.0,177.1 199.0,175.0 200.0,174.0 201.0,174.1 202.0,175.1 203.0,174.1 204.0,175.0 205.0,173.5 206.0,174.2 207.0,172.1 208.0,171.0 209.0,173.1 210.0,173.7 211.0,176.8 212.0,179.0 213.0,177.8 214.0,175.0 215.0,175.1 216.0,173.7 217.0,172.0 218.0,171.9 219.0,174.3 220.0,174.9 221.0,176.5 222.0,177.0 223.0,175.8 224.0,175.8 225.0,175.0 226.0,172.3 227.0,171.6 228.0,172.3 229.0,171.0 230.0,171.8 231.0,169.6 232.0,169.7 233.0,169.6 234.0,169.0 235.0,165.9 236.0,163.3 237.0,161.0 238.0,160.3 239.0,160.3 240.0,160.6 241.0,159.7 242.0,160.0 243.0,160.3 244.0,161.9 245.0,160.6 246.0,162.4 247.0,162.1 248.0,161.4 249.0,161.5 250.0,159.9 251.0,159.2 252.0,160.3 253.0,159.0 254.1,162.3 255.3,166.2 256.4,171.0 257.4,165.3 258.4,160.0 259.3,161.5 260.2,161.0 261.1,162.5 262.0,164.0 263.1,160.9 264.3,159.5 265.4,156.0 266.3,160.2 267.1,165.6 268.0,169.0 269.0,168.1 270.0,168.6 271.0,169.4 272.0,169.0 273.0,174.0 274.0,177.0 275.0,181.0 276.0,184.6 277.0,189.4 278.0,184.6 279.0,181.9 280.0,178.0 281.0,177.4 282.0,179.2 283.0,179.5 284.0,178.0 285.0,179.0 286.0,174.8 287.0,172.5 288.0,168.0 289.0,164.4 290.0,160.0 291.0,165.5 292.0,168.9 293.0,174.0 294.1,177.4 295.3,182.1 296.4,187.0 297.2,177.8 298.0,167.0 299.0,167.7 300.0,169.1 301.0,170.5 302.0,172.0 303.0,167.8 304.0,163.8 305.0,160.0 305.8,156.1 306.5,150.0 307.6,135.6 308.7,135.4 309.9,135.6 311.0,137.6 312.0,137.4 313.0,135.8 314.0,134.7 315.0,132.0 316.0,129.8 317.0,129.2 318.0,126.0 319.0,125.9 320.0,122.8 321.0,122.9 322.0,121.0 323.0,122.7 324.0,123.0 325.0,123.4 326.0,123.7 327.0,125.0 328.1,123.3 329.3,121.6 330.4,121.0 331.4,122.3 332.4,126.2 333.4,128.4 334.3,125.7 335.2,125.0 336.1,120.9 337.0,120.0 338.1,120.0 339.2,118.5 340.3,118.1 341.4,116.0 342.4,119.0 343.4,121.0 344.4,122.0 345.3,118.7 346.2,113.7 347.1,112.1 348.0,108.0 349.0,106.6 350.0,107.0 351.0,108.5 352.0,111.4 353.0,113.0 354.0,113.8 355.0,114.3 356.0,116.4 357.0,116.0 358.0,117.3 359.0,117.6 360.0,118.4 361.0,120.9 362.0,121.0 363.0,119.4 364.0,118.7 365.0,116.1 366.0,115.0 367.0,113.1 368.0,112.9 369.0,112.5 370.0,110.6 371.0,111.0 372.0,113.9 373.0,115.5 374.0,116.5 375.0,117.0 376.0,118.4 377.0,116.9 378.0,119.1 379.0,120.3 380.0,120.0 381.0,120.3 382.0,122.4 383.0,123.9 384.0,126.1 385.0,127.3 386.0,129.0 387.0,127.7 388.0,127.2 389.0,124.0 390.0,124.0 391.0,123.0 392.0,123.3 393.0,123.5 394.0,123.4 395.0,125.9 396.0,125.8 397.0,125.0 398.0,124.9 399.0,127.0 400.0,127.5 401.0,128.5 402.0,129.6 403.0,131.0 404.0,130.9 405.0,130.2 406.0,129.1 407.0,128.2 408.0,128.1 409.0,128.0 410.0,128.4 411.0,130.8 412.0,132.6 413.0,133.0 414.0,133.6 415.0,136.0 416.1,133.8 417.3,133.0 418.4,132.0 419.3,134.0 420.2,136.2 421.1,136.9 422.0,139.0 423.0,143.0 424.0,145.4 425.0,146.7 426.0,148.0 427.0,148.8 428.0,149.7 429.0,151.0 430.0,152.0 430.9,152.0 431.8,150.8 432.7,151.0 433.6,150.0 434.8,146.7 436.0,143.6 437.0,142.7 438.0,143.2 439.0,143.3 440.0,141.4 441.0,142.1 442.0,142.0 443.0,141.8 444.0,142.9 445.0,143.0 446.0,141.5 447.0,142.8 448.0,142.5 449.0,141.0 450.0,141.6 451.1,140.8 452.3,139.2 453.4,139.4 454.3,141.0 455.2,141.4 456.2,142.8 457.1,143.4 458.0,143.4 459.0,143.4 460.0,143.4 461.0,143.4 462.0,143.4 463.0,143.4 464.0,143.4 465.0,143.4 466.0,143.4 467.0,143.4 468.0,143.4 469.0,143.4 470.0,143.4 471.0,143.4 472.0,143.4 473.0,143.4 474.0,143.4 475.0,143.4 476.0,143.4 477.0,143.4 478.0,143.4 479.0,143.4 480.0,143.4 481.0,143.4 482.0,143.2 483.0,142.6 484.0,141.5 485.0,139.6 486.0,140.0 487.0,139.3 488.0,137.0 489.0,136.4 490.0,137.2 491.0,135.6 492.0,134.3 493.0,134.2 494.0,134.1 495.0,135.0 496.0,136.5 497.0,135.1 498.0,135.2 499.0,137.8 500.0,137.4 501.0,136.2 502.0,137.8 503.0,137.2 504.0,137.3 505.0,137.4 506.0,136.0 507.0,136.4 508.0,137.2 509.0,135.5 510.0,137.6 511.0,137.2 512.0,137.4 513.0,138.1 514.0,136.6 515.0,138.4 516.0,139.0 517.0,138.0 518.0,136.4 519.0,136.5 520.0,136.7 521.0,136.9 522.0,134.8 523.0,135.0 524.0,134.8 525.0,135.5 526.0,137.1 527.0,137.4 527.9,137.7 528.8,136.4 529.8,136.0 530.7,135.7 531.6,135.6 532.6,137.9 533.6,141.0 534.8,143.3 536.0,146.0 537.0,144.3 538.0,144.8 539.0,145.4 540.0,143.4 541.0,143.0 542.0,144.5 543.0,143.9 544.0,145.6 545.0,145.3 546.0,144.0" transform="translate(0,0.5)"/>
</g>
<rect x="435" y="27" width="185" height="40" fill="#585858" shape-rendering="crispEdges"/><rect x="436" y="28" width="183" height="38" fill="#000" shape-rendering="crispEdges"/><g class="m"><text x="447" y="24" textLength="161" lengthAdjust="spacingAndGlyphs">February 02, 2022 20:46</text><text transform="translate(439.6,38.3) scale(1.55,1.5)" fill="#00c8ff">-</text><text x="451.2" y="38.1" textLength="161" lengthAdjust="spacingAndGlyphs" fill="#00c8ff">Jan 31 NY close 1796.60</text><text transform="translate(439.6,51.3) scale(1.55,1.5)" fill="#ff0000">-</text><text x="451.2" y="50.1" textLength="161" lengthAdjust="spacingAndGlyphs" fill="#ff0000">Feb 01 NY close 1800.80</text><text transform="translate(439.6,65.3) scale(1.55,1.5)" fill="#00ff00">-</text><text x="451.2" y="63.1" textLength="133" lengthAdjust="spacingAndGlyphs" fill="#00ff00">Feb 02 Last 1806.50</text></g>
</svg>
</body></html>
